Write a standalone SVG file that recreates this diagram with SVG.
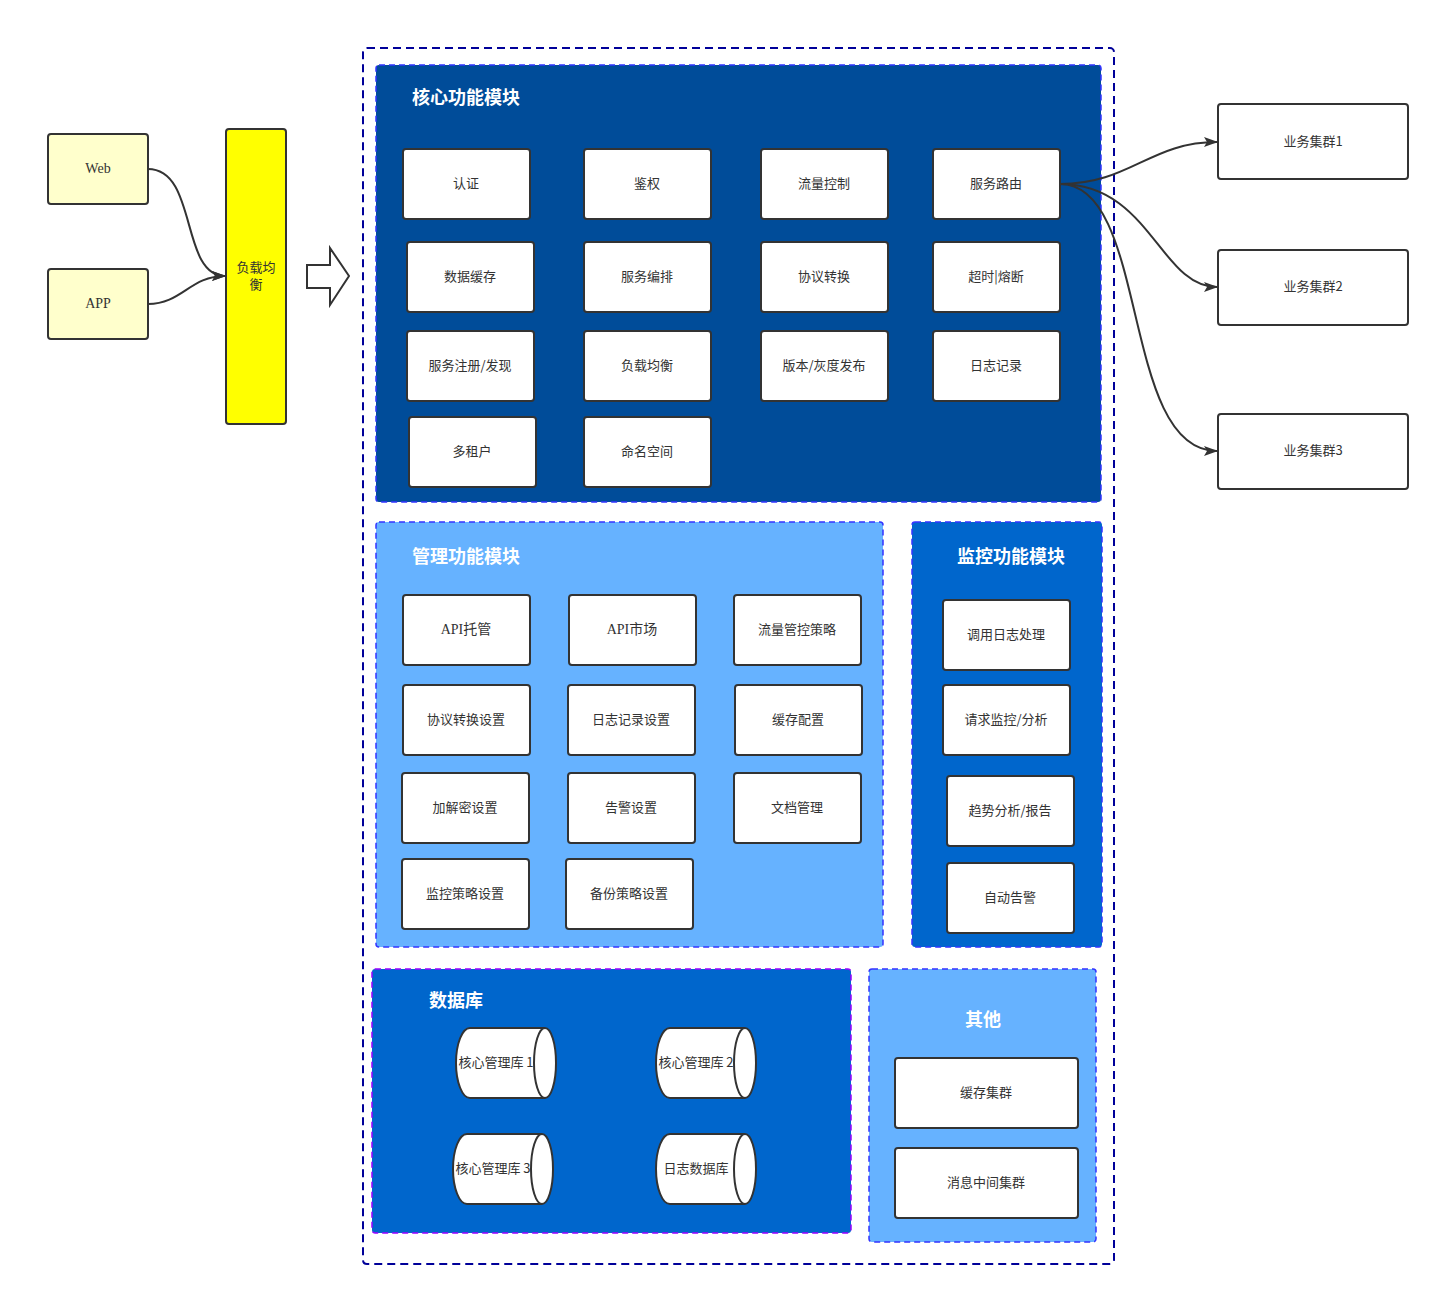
<svg xmlns="http://www.w3.org/2000/svg" width="1440" height="1296" viewBox="0 0 1440 1296">
<style>
.bg{fill:#ffffff}
.node rect.b{fill:#ffffff;stroke:#333333;stroke-width:2}
.t{font-family:"Noto Sans CJK SC","Noto Sans",sans-serif;font-size:13px;fill:#333333;text-anchor:middle;dominant-baseline:central;transform:translateY(-1.5px)}
.ts{font-family:"Liberation Serif","Noto Sans CJK SC",serif;font-size:14px;fill:#333333;text-anchor:middle;dominant-baseline:central;transform:translateY(-1px)}
.title{font-family:"Noto Sans CJK SC","Noto Sans",sans-serif;font-size:18px;font-weight:bold;fill:#ffffff;text-anchor:middle;dominant-baseline:central;transform:translateY(-1px)}
.grp{stroke-width:1.5;stroke-dasharray:6 4}
.conn{fill:none;stroke:#333333;stroke-width:2}
.cyl{fill:#ffffff;stroke:#333333;stroke-width:2}
</style>
<defs>
<marker id="arr" markerWidth="14" markerHeight="10" refX="13" refY="5" orient="auto" markerUnits="userSpaceOnUse">
<path d="M0,0 L14,5 L0,10 L3,5 Z" fill="#333333"/>
</marker>
</defs>
<rect class="bg" x="0" y="0" width="1440" height="1296"/>

<g id="outer">
<rect x="363" y="48" width="751" height="1216" rx="4" fill="none" stroke="#000099" stroke-width="2" stroke-dasharray="8 5"/>
</g>

<g id="core-module">
<rect class="grp" x="376" y="65" width="725" height="437" rx="3" fill="#004C99" stroke="#3333FF"/>
<text class="title" x="466" y="97">核心功能模块</text>
</g>
<g id="mgmt-module">
<rect class="grp" x="376" y="522" width="507" height="425" rx="3" fill="#66B2FF" stroke="#3333FF"/>
<text class="title" x="466" y="556">管理功能模块</text>
</g>
<g id="monitor-module">
<rect class="grp" x="912" y="522" width="190" height="425" rx="3" fill="#0066CC" stroke="#3333FF"/>
<text class="title" x="1011" y="556">监控功能模块</text>
</g>
<g id="db-module">
<rect class="grp" x="372" y="969" width="479" height="264" rx="3" fill="#0066CC" stroke="#9900FF"/>
<text class="title" x="456" y="1000">数据库</text>
</g>
<g id="other-module">
<rect class="grp" x="869" y="969" width="227" height="273" rx="3" fill="#66B2FF" stroke="#3333FF"/>
<text class="title" x="983" y="1019">其他</text>
</g>

<g id="web" class="node"><rect x="48" y="134" width="100" height="70" rx="3" fill="#FFFFCC" stroke="#333333" stroke-width="2"/><text class="ts" x="98" y="169">Web</text></g>
<g id="app" class="node"><rect x="48" y="269" width="100" height="70" rx="3" fill="#FFFFCC" stroke="#333333" stroke-width="2"/><text class="ts" x="98" y="304">APP</text></g>
<g id="lb" class="node"><rect x="226" y="129" width="60" height="295" rx="3" fill="#FFFF00" stroke="#333333" stroke-width="2"/><text class="t" x="256" y="268">负载均</text><text class="t" x="256" y="285">衡</text></g>
<g id="block-arrow"><polygon points="307,265 330,265 330,248 349,276 330,305 330,288 307,288" fill="#ffffff" stroke="#333333" stroke-width="2"/></g>

<g id="core-auth" class="node"><rect class="b" x="403" y="149" width="127" height="70" rx="3"/><text class="t" x="466" y="184">认证</text></g>
<g id="core-authz" class="node"><rect class="b" x="584" y="149" width="127" height="70" rx="3"/><text class="t" x="647" y="184">鉴权</text></g>
<g id="core-flow" class="node"><rect class="b" x="761" y="149" width="127" height="70" rx="3"/><text class="t" x="824" y="184">流量控制</text></g>
<g id="core-route" class="node"><rect class="b" x="933" y="149" width="127" height="70" rx="3"/><text class="t" x="996" y="184">服务路由</text></g>
<g id="core-cache" class="node"><rect class="b" x="407" y="242" width="127" height="70" rx="3"/><text class="t" x="470" y="277">数据缓存</text></g>
<g id="core-orch" class="node"><rect class="b" x="584" y="242" width="127" height="70" rx="3"/><text class="t" x="647" y="277">服务编排</text></g>
<g id="core-proto" class="node"><rect class="b" x="761" y="242" width="127" height="70" rx="3"/><text class="t" x="824" y="277">协议转换</text></g>
<g id="core-timeout" class="node"><rect class="b" x="933" y="242" width="127" height="70" rx="3"/><text class="t" x="996" y="277">超时|熔断</text></g>
<g id="core-reg" class="node"><rect class="b" x="407" y="331" width="127" height="70" rx="3"/><text class="t" x="470" y="366">服务注册/发现</text></g>
<g id="core-lb" class="node"><rect class="b" x="584" y="331" width="127" height="70" rx="3"/><text class="t" x="647" y="366">负载均衡</text></g>
<g id="core-ver" class="node"><rect class="b" x="761" y="331" width="127" height="70" rx="3"/><text class="t" x="824" y="366">版本/灰度发布</text></g>
<g id="core-log" class="node"><rect class="b" x="933" y="331" width="127" height="70" rx="3"/><text class="t" x="996" y="366">日志记录</text></g>
<g id="core-tenant" class="node"><rect class="b" x="409" y="417" width="127" height="70" rx="3"/><text class="t" x="472" y="452">多租户</text></g>
<g id="core-ns" class="node"><rect class="b" x="584" y="417" width="127" height="70" rx="3"/><text class="t" x="647" y="452">命名空间</text></g>

<g id="mg-host" class="node"><rect class="b" x="403" y="595" width="127" height="70" rx="3"/><text class="ts" x="466" y="630">API托管</text></g>
<g id="mg-market" class="node"><rect class="b" x="569" y="595" width="127" height="70" rx="3"/><text class="ts" x="632" y="630">API市场</text></g>
<g id="mg-flow" class="node"><rect class="b" x="734" y="595" width="127" height="70" rx="3"/><text class="t" x="797" y="630">流量管控策略</text></g>
<g id="mg-proto" class="node"><rect class="b" x="403" y="685" width="127" height="70" rx="3"/><text class="t" x="466" y="720">协议转换设置</text></g>
<g id="mg-log" class="node"><rect class="b" x="568" y="685" width="127" height="70" rx="3"/><text class="t" x="631" y="720">日志记录设置</text></g>
<g id="mg-cache" class="node"><rect class="b" x="735" y="685" width="127" height="70" rx="3"/><text class="t" x="798" y="720">缓存配置</text></g>
<g id="mg-crypt" class="node"><rect class="b" x="402" y="773" width="127" height="70" rx="3"/><text class="t" x="465" y="808">加解密设置</text></g>
<g id="mg-alarm" class="node"><rect class="b" x="568" y="773" width="127" height="70" rx="3"/><text class="t" x="631" y="808">告警设置</text></g>
<g id="mg-doc" class="node"><rect class="b" x="734" y="773" width="127" height="70" rx="3"/><text class="t" x="797" y="808">文档管理</text></g>
<g id="mg-mon" class="node"><rect class="b" x="402" y="859" width="127" height="70" rx="3"/><text class="t" x="465" y="894">监控策略设置</text></g>
<g id="mg-backup" class="node"><rect class="b" x="566" y="859" width="127" height="70" rx="3"/><text class="t" x="629" y="894">备份策略设置</text></g>

<g id="mon-call" class="node"><rect class="b" x="943" y="600" width="127" height="70" rx="3"/><text class="t" x="1006" y="635">调用日志处理</text></g>
<g id="mon-req" class="node"><rect class="b" x="943" y="685" width="127" height="70" rx="3"/><text class="t" x="1006" y="720">请求监控/分析</text></g>
<g id="mon-trend" class="node"><rect class="b" x="947" y="776" width="127" height="70" rx="3"/><text class="t" x="1010" y="811">趋势分析/报告</text></g>
<g id="mon-alarm" class="node"><rect class="b" x="947" y="863" width="127" height="70" rx="3"/><text class="t" x="1010" y="898">自动告警</text></g>

<g id="db1" class="node"><path class="cyl" d="M545,1028 L470,1028 A14,35 0 0 0 470,1098 L545,1098"/><ellipse class="cyl" cx="545" cy="1063" rx="11" ry="35"/><text class="t" x="496" y="1063">核心管理库 1</text></g>
<g id="db2" class="node"><path class="cyl" d="M745,1028 L670,1028 A14,35 0 0 0 670,1098 L745,1098"/><ellipse class="cyl" cx="745" cy="1063" rx="11" ry="35"/><text class="t" x="696" y="1063">核心管理库 2</text></g>
<g id="db3" class="node"><path class="cyl" d="M542,1134 L467,1134 A14,35 0 0 0 467,1204 L542,1204"/><ellipse class="cyl" cx="542" cy="1169" rx="11" ry="35"/><text class="t" x="493" y="1169">核心管理库 3</text></g>
<g id="db4" class="node"><path class="cyl" d="M745,1134 L670,1134 A14,35 0 0 0 670,1204 L745,1204"/><ellipse class="cyl" cx="745" cy="1169" rx="11" ry="35"/><text class="t" x="696" y="1169">日志数据库</text></g>

<g id="oth-cache" class="node"><rect class="b" x="895" y="1058" width="183" height="70" rx="3"/><text class="t" x="986" y="1093">缓存集群</text></g>
<g id="oth-mq" class="node"><rect class="b" x="895" y="1148" width="183" height="70" rx="3"/><text class="t" x="986" y="1183">消息中间集群</text></g>

<g id="cluster1" class="node"><rect class="b" x="1218" y="104" width="190" height="75" rx="3"/><text class="t" x="1313" y="142">业务集群1</text></g>
<g id="cluster2" class="node"><rect class="b" x="1218" y="250" width="190" height="75" rx="3"/><text class="t" x="1313" y="287">业务集群2</text></g>
<g id="cluster3" class="node"><rect class="b" x="1218" y="414" width="190" height="75" rx="3"/><text class="t" x="1313" y="451">业务集群3</text></g>

<g id="connectors">
<path class="conn" d="M148,169 C198,169 180,276 225,276" marker-end="url(#arr)"/>
<path class="conn" d="M148,304 C182,304 190,276 225,276" marker-end="url(#arr)"/>
<path class="conn" d="M1060,184 C1130,184 1150,142 1217,142" marker-end="url(#arr)"/>
<path class="conn" d="M1060,184 C1150,184 1160,287 1217,287" marker-end="url(#arr)"/>
<path class="conn" d="M1060,184 C1150,184 1120,451 1217,451" marker-end="url(#arr)"/>
</g>
</svg>
